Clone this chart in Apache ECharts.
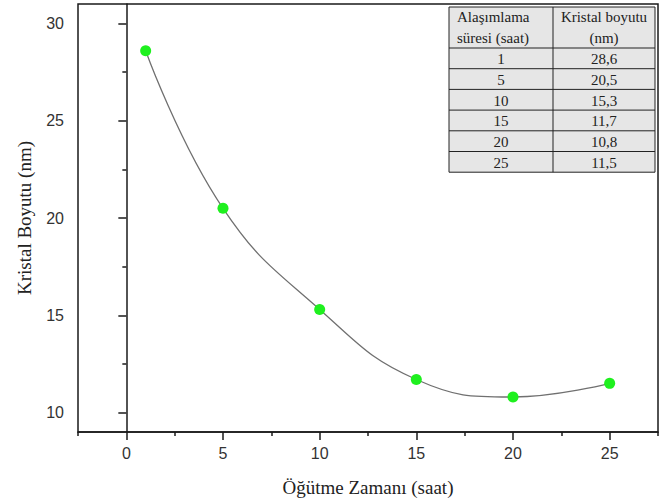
<!DOCTYPE html>
<html>
<head>
<meta charset="utf-8">
<script src="https://cdn.jsdelivr.net/npm/echarts@6/dist/echarts.min.js"></script>
<style>html,body{margin:0;padding:0;background:#fff}#c{width:668px;height:504px}</style>
</head>
<body>
<div id="c"></div>
<script>
var times = [1, 5, 10, 15, 20, 25];
var sizes = [28.6, 20.5, 15.3, 11.7, 10.8, 11.5];
var xMajor = [0, 5, 10, 15, 20, 25];
var xMinor = [-2.5, 2.5, 7.5, 12.5, 17.5, 22.5, 27.5];
var yMajor = [10, 15, 20, 25, 30];
var yMinor = [12.5, 17.5, 22.5, 27.5];
var headers = [["Alaşımlama", "süresi (saat)"], ["Kristal boyutu", "(nm)"]];

var chart = echarts.init(document.getElementById('c'), null, {renderer: 'svg'});
var axisColor = '#1a1a1a';
var labelStyle = {fontFamily: 'Liberation Sans, Arial, sans-serif', fontSize: 16, color: '#333'};
var serif = 'Liberation Serif, Times New Roman, serif';

// table graphic
var tLeft = 449, tTop = 7, c1 = 104, c2 = 102, hH = 41, rH = 20.7;
var g = [];
var tW = c1 + c2, tH = hH + rH * times.length;
var tFont = '15px ' + serif;
g.push({type: 'rect', shape: {x: tLeft, y: tTop, width: tW, height: tH}, style: {fill: '#e6e6e6', stroke: '#222', lineWidth: 1}, z: 10});
g.push({type: 'line', shape: {x1: tLeft + c1, y1: tTop, x2: tLeft + c1, y2: tTop + tH}, style: {stroke: '#222', lineWidth: 1}, z: 11});
g.push({type: 'text', style: {text: headers[0].join('\n'), x: tLeft + 8, y: tTop + hH / 2, align: 'left', verticalAlign: 'middle', font: tFont, fill: '#222', lineHeight: 21}, z: 12});
g.push({type: 'text', style: {text: headers[1].join('\n'), x: tLeft + c1 + c2 / 2, y: tTop + hH / 2, align: 'center', verticalAlign: 'middle', font: tFont, fill: '#222', lineHeight: 21}, z: 12});
for (var i = 0; i < times.length; i++) {
  var y0 = tTop + hH + rH * i;
  g.push({type: 'line', shape: {x1: tLeft, y1: y0, x2: tLeft + tW, y2: y0}, style: {stroke: '#222', lineWidth: 1}, z: 11});
  g.push({type: 'text', style: {text: String(times[i]), x: tLeft + c1 / 2, y: y0 + rH / 2 + 1, align: 'center', verticalAlign: 'middle', font: tFont, fill: '#222'}, z: 12});
  g.push({type: 'text', style: {text: sizes[i].toFixed(1).replace('.', ','), x: tLeft + c1 + c2 / 2, y: y0 + rH / 2 + 1, align: 'center', verticalAlign: 'middle', font: tFont, fill: '#222'}, z: 12});
}

var baseX = {type: 'value', min: -2.5, max: 27.5, position: 'bottom', splitLine: {show: false}};
var baseY = {type: 'value', min: 9, max: 31, position: 'left', splitLine: {show: false}};

chart.setOption({
  backgroundColor: '#fff',
  animation: false,
  grid: {left: 78, right: 10, top: 4, bottom: 72, show: true, borderColor: axisColor, borderWidth: 1.5, backgroundColor: '#fff'},
  xAxis: [
    Object.assign({}, baseX, {
      name: 'Öğütme Zamanı (saat)', nameLocation: 'middle', nameGap: 46,
      nameTextStyle: {fontFamily: serif, fontSize: 19, color: '#222'},
      axisLine: {show: true, lineStyle: {color: axisColor, width: 1.5}},
      axisTick: {show: true, length: 8, customValues: xMajor, lineStyle: {color: axisColor, width: 1.5}},
      axisLabel: Object.assign({margin: 13, customValues: xMajor}, labelStyle)
    }),
    Object.assign({}, baseX, {
      axisLine: {show: false},
      axisTick: {show: true, length: 4, customValues: xMinor, lineStyle: {color: axisColor, width: 1.5}},
      axisLabel: {show: false}
    })
  ],
  yAxis: [
    Object.assign({}, baseY, {
      name: 'Kristal Boyutu (nm)', nameLocation: 'middle', nameGap: 44,
      nameTextStyle: {fontFamily: serif, fontSize: 19, color: '#222'},
      axisLine: {show: true, lineStyle: {color: axisColor, width: 1.5}},
      axisTick: {show: true, length: 8, customValues: yMajor, lineStyle: {color: axisColor, width: 1.5}},
      axisLabel: Object.assign({margin: 14, customValues: yMajor}, labelStyle)
    }),
    Object.assign({}, baseY, {
      axisLine: {show: false},
      axisTick: {show: true, length: 4, customValues: yMinor, lineStyle: {color: axisColor, width: 1.5}},
      axisLabel: {show: false}
    })
  ],
  series: [{
    type: 'line',
    xAxisIndex: 0, yAxisIndex: 0,
    data: times.map(function (t, i) { return [t, sizes[i]]; }),
    smooth: 0.45,
    symbol: 'circle', symbolSize: 11,
    itemStyle: {color: '#1ff01f', borderWidth: 0},
    lineStyle: {color: '#707070', width: 1.3}
  }],
  graphic: g
});
</script>
</body>
</html>
